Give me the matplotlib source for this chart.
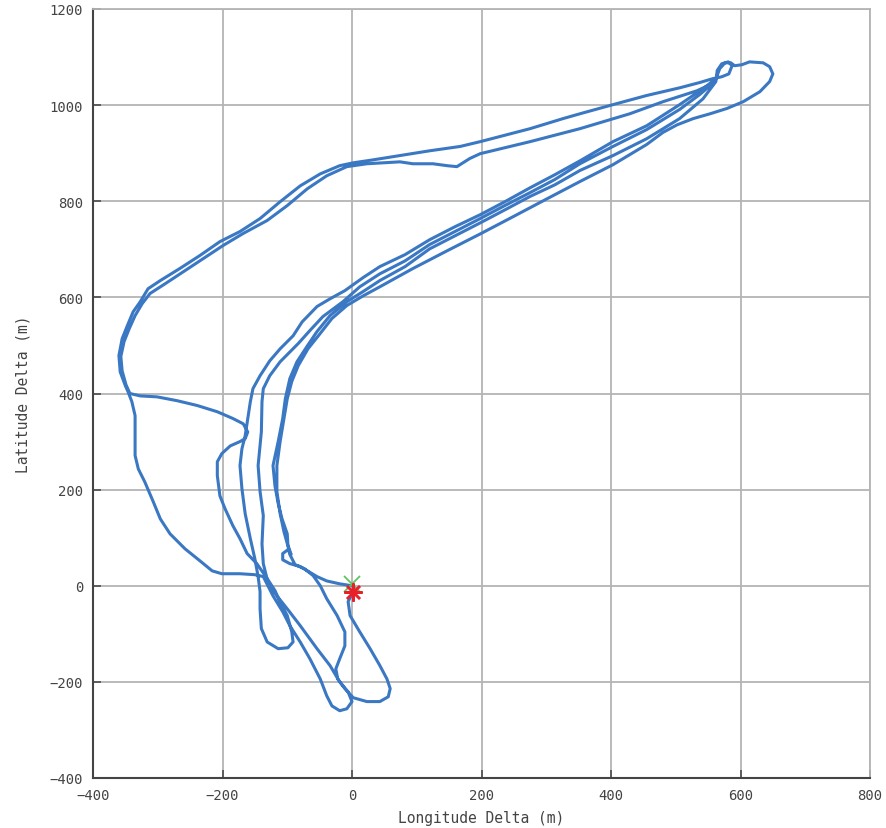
import matplotlib
matplotlib.use("Agg")
import matplotlib.pyplot as plt
import numpy as np

# ---- data (metres) ----
start_lon = [0, -19, -39, -54, -80, -96, -107, -107, -99, -94, -99, -100, -108, -114, -119, -122, -114, -107, -103, -96, -85, -69, -54, -34, -8, 17, 43,
             82, 120, 159, 198, 236, 275, 313, 352, 403, 455, 506, 542, 562]
start_lat = [0, 4, 10, 19, 40, 46, 54, 67, 75, 65, 85, 108, 139, 171, 208, 250, 300, 348, 389, 431, 466, 499, 529, 562, 591, 612, 635,
             664, 701, 728, 755, 782, 810, 834, 864, 895, 930, 972, 1013, 1049]

lap1_lon = [564, 571, 581, 587, 582, 571, 557, 537, 506, 455, 403, 352, 326, 275, 198, 167, 120, 74, 32, 2, -19, -49, -80, -111, -142, -173, -204,
            -235, -266, -296, -315, -327, -338, -347, -355, -360, -358, -350, -346,
            -340, -335, -335, -335, -330, -320, -307, -296, -281, -258, -235, -216, -201, -173, -150, -137,
            -122, -107, -96, -80, -65, -49, -39, -31, -19, -8, 0,
            -6, -19, -34, -54, -80, -100, -116, -130, -137, -139]
lap1_lat = [1072, 1086, 1090, 1082, 1065, 1059, 1055, 1047, 1036, 1020, 1001, 982, 972, 951, 924, 914, 905, 895, 886, 880, 874, 857, 832, 799, 764, 737, 716,
            687, 660, 635, 618, 591, 570, 541, 514, 479, 445, 416, 404,
            383, 354, 312, 271, 243, 216, 175, 139, 108, 77, 52, 31, 25, 25, 23, 19,
            -21, -54, -83, -117, -152, -194, -229, -250, -260, -256, -241,
            -221, -200, -166, -131, -83, -48, -21, 8, 46, 87]

lap2_lon = [-137, -142, -145, -140, -139, -137, -127, -111, -83, -65, -45, -14, 12, 43,
            82, 120, 159, 198, 236, 275, 313, 352, 403, 455, 506, 537, 557,
            533, 480, 429, 352, 275, 198, 182, 162, 147, 125, 94, 74, 23, -8, -39, -69, -100, -131, -168, -199,
            -235, -261, -289, -312, -324, -335, -344, -352, -357, -355, -349, -343,
            -327, -301, -270, -239, -208, -184, -168, -161, -165, -173, -188, -201, -208, -208, -204, -196, -184, -173, -162, -147,
            -131, -119, -110, -100, -93, -91, -99, -114, -131, -140, -142, -142, -145, -150, -157, -165, -170, -173, -170, -165, -161, -157]
lap2_lat = [146, 196, 250, 320, 383, 410, 437, 466, 504, 531, 560, 591, 622, 649,
            676, 710, 737, 764, 791, 818, 845, 878, 914, 949, 991, 1022, 1045,
            1030, 1007, 982, 951, 924, 899, 889, 872, 874, 878, 878, 882, 878, 872, 853, 826, 791, 760, 733, 708,
            676, 653, 628, 608, 587, 562, 535, 508, 477, 447, 418, 400,
            395, 393, 385, 375, 362, 348, 337, 320, 306, 300, 291, 275, 258, 229, 187, 160, 125, 98, 67, 46,
            15, -10, -37, -62, -96, -117, -129, -131, -117, -89, -48, -12, 19, 56, 98, 150, 202, 250, 285, 312, 348, 383]

lap3_lon = [-153, -142, -127, -111, -91, -77, -54, -34, -11, 17, 43,
            82, 120, 159, 198, 236, 275, 313, 352, 403, 455, 506, 542, 562,
            568, 576, 585, 591, 602, 614, 635, 645, 650, 645, 630, 604, 579, 553, 527, 502, 480, 455,
            403, 352, 301, 249, 198, 147, 94, 43,
            17, -8, -31, -52, -68, -83, -93, -100, -105, -111, -116, -116, -111, -105, -99, -96, -88, -73, -60,
            -49, -39, -23, -11, -11, -19, -25, -22, -11, 2, 23, 43, 56, 59, 54, 43, 28, 12, -3, -6, 2]
lap3_lat = [410, 437, 468, 493, 520, 549, 581, 597, 614, 641, 664,
            689, 720, 747, 772, 799, 828, 855, 884, 924, 957, 1001, 1034, 1055,
            1076, 1088, 1088, 1082, 1084, 1090, 1088, 1080, 1065, 1049, 1028, 1007, 993, 982, 972, 959, 943, 918,
            876, 841, 805, 768, 732, 697, 660, 622,
            603, 583, 556, 520, 493, 458, 425, 389, 348, 300, 250, 196, 150, 112, 83, 65, 44, 35, 21,
            0, -27, -62, -96, -125, -152, -173, -194, -214, -233, -241, -241, -231, -214, -194, -166, -131, -96, -62, -33, -12]

start_pt = (0, 4)
end_pt = (2, -12)

x_ticks = [-400, -200, 0, 200, 400, 600, 800]
y_ticks = [-400, -200, 0, 200, 400, 600, 800, 1000, 1200]

track_lon = start_lon + lap1_lon + lap2_lon + lap3_lon
track_lat = start_lat + lap1_lat + lap2_lat + lap3_lat

# ---- figure ----
fig = plt.figure(figsize=(8.87, 8.29), dpi=100)
ax = fig.add_axes([93 / 887, 50 / 829, 777 / 887, 769 / 829])

ax.plot(track_lon, track_lat, color="#3b78c3", lw=2.2, solid_joinstyle="round", zorder=3)
ax.plot(*start_pt, marker="x", color="#5fc45f", ms=11, mew=1.3, zorder=4, ls="none")
ax.plot(*end_pt, marker=(8, 2, 0), color="#e8202a", ms=13, mew=1.8, zorder=5, ls="none")

ax.set_xlim(-400, 800)
ax.set_ylim(-400, 1200)
ax.set_xticks(x_ticks)
ax.set_yticks(y_ticks)
ax.grid(True, color="#b4b4b4", lw=1.3, zorder=0)
ax.set_axisbelow(True)

font = dict(family="DejaVu Sans Mono", size=10, color="#444444")
ax.set_xticklabels([str(v).replace("-", "\u2212") for v in x_ticks], fontdict=font)
ax.set_yticklabels([str(v).replace("-", "\u2212") for v in y_ticks], fontdict=font)
ax.tick_params(direction="in", length=6, width=1.3, color="#555555", pad=7)
ax.set_xlabel("Longitude Delta (m)", fontdict=dict(family="DejaVu Sans Mono", size=10.5, color="#444444"), labelpad=6)
ax.set_ylabel("Latitude Delta (m)", fontdict=dict(family="DejaVu Sans Mono", size=10.5, color="#444444"), labelpad=14)

for side in ["left", "bottom"]:
    ax.spines[side].set_color("#444444")
    ax.spines[side].set_linewidth(1.5)
for side in ["top", "right"]:
    ax.spines[side].set_color("#b4b4b4")
    ax.spines[side].set_linewidth(1.3)

fig.savefig("out.png", dpi=100)
